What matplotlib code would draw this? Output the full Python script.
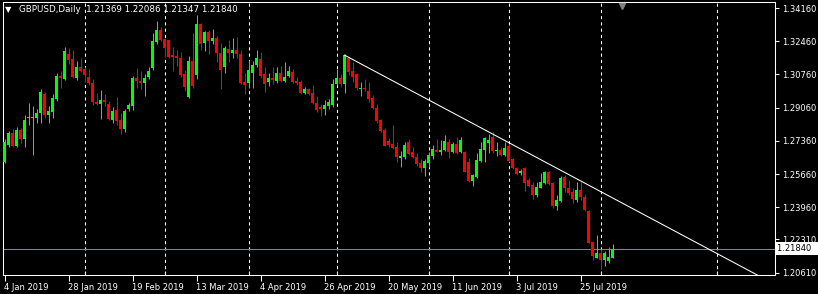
import numpy as np
import pandas as pd
import matplotlib
matplotlib.use("Agg")
import matplotlib.pyplot as plt
import matplotlib.transforms as mtransforms

symbol = "GBPUSD,Daily"
first_day = "2019-01-04"

# daily candles, one per weekday from 4 Jan 2019
opens = [1.2628, 1.2715, 1.2776, 1.2709, 1.2791, 1.2745, 1.2856, 1.2856, 1.2853, 1.2878,
         1.2976, 1.2868, 1.2884, 1.2950, 1.3068, 1.3053, 1.3181, 1.3155, 1.3058, 1.3114,
         1.3104, 1.3063, 1.3032, 1.2935, 1.2925, 1.2945, 1.2925, 1.2843, 1.2894, 1.2843,
         1.2797, 1.2899, 1.2914, 1.3058, 1.3042, 1.3032, 1.3063, 1.3109, 1.3242, 1.3303,
         1.3257, 1.3252, 1.3175, 1.3170, 1.3160, 1.3078, 1.2960, 1.3145, 1.3073, 1.3334,
         1.3237, 1.3293, 1.3247, 1.3262, 1.3186, 1.3114, 1.3206, 1.3186, 1.3201, 1.3181,
         1.3037, 1.3032, 1.3083, 1.3124, 1.3155, 1.3078, 1.3037, 1.3058, 1.3042, 1.3083,
         1.3042, 1.3068, 1.3088, 1.3042, 1.3037, 1.2981, 1.3001, 1.2981, 1.2930, 1.2909,
         1.2899, 1.2914, 1.2919, 1.3027, 1.3058, 1.3027, 1.3160, 1.3093, 1.3078, 1.3001,
         1.3006, 1.2991, 1.2955, 1.2904, 1.2843, 1.2791, 1.2735, 1.2720, 1.2704, 1.2648,
         1.2653, 1.2730, 1.2679, 1.2653, 1.2622, 1.2597, 1.2622, 1.2658, 1.2689, 1.2679,
         1.2689, 1.2730, 1.2679, 1.2720, 1.2679, 1.2679, 1.2628, 1.2530, 1.2551, 1.2633,
         1.2689, 1.2725, 1.2756, 1.2684, 1.2689, 1.2663, 1.2709, 1.2643, 1.2597, 1.2571,
         1.2597, 1.2535, 1.2510, 1.2459, 1.2494, 1.2520, 1.2576, 1.2520, 1.2402, 1.2428,
         1.2551, 1.2494, 1.2474, 1.2433, 1.2484, 1.2448, 1.2377, 1.2218, 1.2136, 1.2162,
         1.2126, 1.2121, 1.21369]
highs = [1.2745, 1.2786, 1.2797, 1.2807, 1.2802, 1.2868, 1.2930, 1.2914, 1.2899, 1.3001,
         1.2986, 1.2914, 1.2976, 1.3083, 1.3093, 1.3216, 1.3211, 1.3201, 1.3145, 1.3160,
         1.3114, 1.3104, 1.3053, 1.2981, 1.2996, 1.2976, 1.2940, 1.2909, 1.2960, 1.2878,
         1.2899, 1.2930, 1.3068, 1.3109, 1.3093, 1.3078, 1.3114, 1.3288, 1.3349, 1.3319,
         1.3262, 1.3252, 1.3216, 1.3201, 1.3191, 1.3099, 1.3170, 1.3288, 1.3380, 1.3339,
         1.3298, 1.3303, 1.3309, 1.3273, 1.3237, 1.3221, 1.3252, 1.3262, 1.3268, 1.3201,
         1.3083, 1.3150, 1.3145, 1.3201, 1.3191, 1.3114, 1.3083, 1.3114, 1.3114, 1.3119,
         1.3140, 1.3119, 1.3104, 1.3063, 1.3047, 1.3012, 1.3006, 1.3022, 1.2965, 1.2925,
         1.2945, 1.2950, 1.3053, 1.3104, 1.3078, 1.3180, 1.3165, 1.3140, 1.3083, 1.3037,
         1.3053, 1.3037, 1.2971, 1.2925, 1.2848, 1.2802, 1.2750, 1.2817, 1.2730, 1.2684,
         1.2730, 1.2745, 1.2704, 1.2674, 1.2643, 1.2643, 1.2679, 1.2715, 1.2745, 1.2740,
         1.2766, 1.2745, 1.2730, 1.2756, 1.2756, 1.2684, 1.2648, 1.2566, 1.2674, 1.2730,
         1.2756, 1.2771, 1.2781, 1.2730, 1.2704, 1.2730, 1.2720, 1.2648, 1.2602, 1.2592,
         1.2602, 1.2546, 1.2525, 1.2525, 1.2571, 1.2581, 1.2581, 1.2525, 1.2459, 1.2556,
         1.2561, 1.2535, 1.2494, 1.2525, 1.2525, 1.2464, 1.2382, 1.2223, 1.2254, 1.2177,
         1.2172, 1.2192, 1.22086]
lows = [1.2622, 1.2704, 1.2704, 1.2704, 1.2725, 1.2704, 1.2817, 1.2663, 1.2827, 1.2827,
        1.2853, 1.2827, 1.2853, 1.2940, 1.3006, 1.3047, 1.3129, 1.3058, 1.3047, 1.3088,
        1.3037, 1.3022, 1.2919, 1.2919, 1.2848, 1.2914, 1.2843, 1.2827, 1.2817, 1.2771,
        1.2781, 1.2889, 1.2894, 1.3006, 1.3001, 1.2965, 1.3053, 1.3099, 1.3232, 1.3247,
        1.3165, 1.3160, 1.3093, 1.3119, 1.3063, 1.2991, 1.2955, 1.3006, 1.3053, 1.3201,
        1.3196, 1.3181, 1.3232, 1.3140, 1.3001, 1.3083, 1.3140, 1.3160, 1.3160, 1.3027,
        1.2976, 1.3006, 1.3006, 1.3114, 1.3058, 1.2986, 1.3017, 1.3027, 1.3032, 1.3037,
        1.3037, 1.3063, 1.3032, 1.3022, 1.2976, 1.2976, 1.2971, 1.2925, 1.2884, 1.2863,
        1.2868, 1.2899, 1.2909, 1.3022, 1.3012, 1.2981, 1.3073, 1.3037, 1.2996, 1.2965,
        1.2991, 1.2935, 1.2899, 1.2827, 1.2781, 1.2709, 1.2704, 1.2694, 1.2628, 1.2602,
        1.2643, 1.2663, 1.2648, 1.2607, 1.2576, 1.2556, 1.2602, 1.2643, 1.2679, 1.2663,
        1.2684, 1.2648, 1.2674, 1.2669, 1.2674, 1.2576, 1.2525, 1.2505, 1.2546, 1.2628,
        1.2628, 1.2674, 1.2674, 1.2658, 1.2658, 1.2658, 1.2628, 1.2592, 1.2561, 1.2561,
        1.2479, 1.2500, 1.2438, 1.2448, 1.2494, 1.2515, 1.2510, 1.2392, 1.2382, 1.2423,
        1.2474, 1.2459, 1.2418, 1.2423, 1.2433, 1.2377, 1.2213, 1.2126, 1.2136, 1.2080,
        1.2095, 1.2110, 1.21347]
closes = [1.2730, 1.2776, 1.2709, 1.2791, 1.2745, 1.2843, 1.2860, 1.2860, 1.2878, 1.2986,
          1.2868, 1.2889, 1.2955, 1.3068, 1.3058, 1.3196, 1.3150, 1.3063, 1.3114, 1.3093,
          1.3073, 1.3032, 1.2935, 1.2925, 1.2945, 1.2935, 1.2848, 1.2889, 1.2837, 1.2797,
          1.2889, 1.2919, 1.3058, 1.3042, 1.3032, 1.3058, 1.3093, 1.3247, 1.3303, 1.3252,
          1.3211, 1.3165, 1.3165, 1.3160, 1.3073, 1.3012, 1.3145, 1.3017, 1.3334, 1.3232,
          1.3293, 1.3247, 1.3262, 1.3186, 1.3099, 1.3211, 1.3186, 1.3201, 1.3181, 1.3032,
          1.3022, 1.3099, 1.3124, 1.3160, 1.3068, 1.3027, 1.3058, 1.3047, 1.3083, 1.3042,
          1.3063, 1.3093, 1.3037, 1.3032, 1.2981, 1.3001, 1.2976, 1.2930, 1.2894, 1.2899,
          1.2919, 1.2935, 1.3027, 1.3058, 1.3027, 1.3175, 1.3088, 1.3063, 1.3006, 1.3006,
          1.3001, 1.2950, 1.2904, 1.2837, 1.2786, 1.2709, 1.2715, 1.2699, 1.2653, 1.2658,
          1.2715, 1.2669, 1.2653, 1.2617, 1.2597, 1.2633, 1.2663, 1.2694, 1.2679, 1.2689,
          1.2735, 1.2679, 1.2720, 1.2674, 1.2740, 1.2576, 1.2530, 1.2561, 1.2638, 1.2694,
          1.2750, 1.2740, 1.2684, 1.2689, 1.2663, 1.2699, 1.2633, 1.2597, 1.2566, 1.2581,
          1.2520, 1.2505, 1.2459, 1.2500, 1.2525, 1.2576, 1.2515, 1.2402, 1.2433, 1.2546,
          1.2494, 1.2469, 1.2438, 1.2484, 1.2448, 1.2382, 1.2213, 1.2146, 1.2162, 1.2126,
          1.2162, 1.2141, 1.21840]

price_ticks = [1.34160, 1.32460, 1.30760, 1.29060, 1.27360, 1.25660, 1.23960, 1.22310, 1.20610]
label_days = ["2019-01-04", "2019-01-28", "2019-02-19", "2019-03-13", "2019-04-04",
              "2019-04-26", "2019-05-20", "2019-06-11", "2019-07-03", "2019-07-25"]
month_lines = ["2019-02-01", "2019-03-01", "2019-04-01", "2019-05-01", "2019-06-03",
               "2019-07-01", "2019-08-01", "2019-09-11"]
# trendline anchors (bar date, price)
trend_days = ["2019-05-03", "2019-08-07"]
trend_prices = [1.3175, 1.2433]

days = pd.bdate_range(first_day, periods=260)
def bar_of(d):
    return days.get_loc(pd.Timestamp(d))

o = np.array(opens); h = np.array(highs); l = np.array(lows); c = np.array(closes)
x = np.arange(len(o))
up = c >= o
cols = np.where(up, "#00ff00", "#ff0000")

fig = plt.figure(figsize=(8.18, 2.94), dpi=100, facecolor="black")
ax = fig.add_axes([2.5 / 818, 19 / 294, 772.5 / 818, 273 / 294], facecolor="black")

for d in month_lines:
    ax.axvline(bar_of(d), color="white", lw=0.75, ls=(0, (3, 3)), zorder=1)

ax.axhline(c[-1], color="#778899", lw=0.75, zorder=2)

ax.vlines(x, l, h, colors=cols, lw=0.72, zorder=3)
body = np.maximum(np.abs(c - o), 0.0005)
mid = (o + c) / 2
ax.bar(x, body, width=0.75, bottom=mid - body / 2, color=cols, lw=0, zorder=4)

# trend line, extended to the right
tx = [bar_of(d) for d in trend_days]
slope = (trend_prices[1] - trend_prices[0]) / (tx[1] - tx[0])
xe = 210
ax.plot([tx[0], xe], [trend_prices[0], trend_prices[0] + slope * (xe - tx[0])],
        color="white", lw=0.75, zorder=5)

ax.set_xlim(-0.5, 192.625)
ax.set_ylim(1.2049, 1.3447)

for s in ax.spines.values():
    s.set_color("white")
    s.set_linewidth(0.75)

ax.yaxis.tick_right()
ax.set_yticks(price_ticks)
ax.set_yticklabels([f"{p:.5f}" for p in price_ticks])
ax.tick_params(axis="y", colors="white", length=3, width=0.75, labelsize=6, pad=2)

xt = [bar_of(d) for d in label_days]
ax.set_xticks(xt)
ax.set_xticklabels([f"{pd.Timestamp(d).day} {pd.Timestamp(d):%b %Y}" for d in label_days], ha="left")
ax.set_xticks([bar_of(d) for d in month_lines], minor=True)
ax.tick_params(axis="x", which="major", colors="white", length=4, width=0.75, labelsize=6, pad=1.5)
ax.tick_params(axis="x", which="minor", colors="white", length=3, width=0.75, direction="in")

tr = mtransforms.blended_transform_factory(ax.transAxes, ax.transData)
ax.text(1 + 2 / 772.5, c[-1], f"{c[-1]:.5f}  ", transform=tr, color="black", fontsize=6,
        va="center", ha="left", zorder=10,
        bbox=dict(boxstyle="square,pad=0.25", facecolor="white", edgecolor="none"))

tr2 = mtransforms.blended_transform_factory(ax.transData, ax.transAxes)
ax.plot([154.25], [0.985], marker="v", ms=5, color="#808080", transform=tr2, clip_on=False, zorder=10)

fig.text(5 / 818, 1 - 10 / 294, "\u25bc", color="white", fontsize=6, va="center", ha="left")
fig.text(19 / 818, 1 - 10 / 294,
         symbol + "  " + " ".join(f"{v:.5f}" for v in (o[-1], h[-1], l[-1], c[-1])),
         color="white", fontsize=6.3, va="center", ha="left")

fig.savefig("out.png", dpi=100, facecolor="black")
